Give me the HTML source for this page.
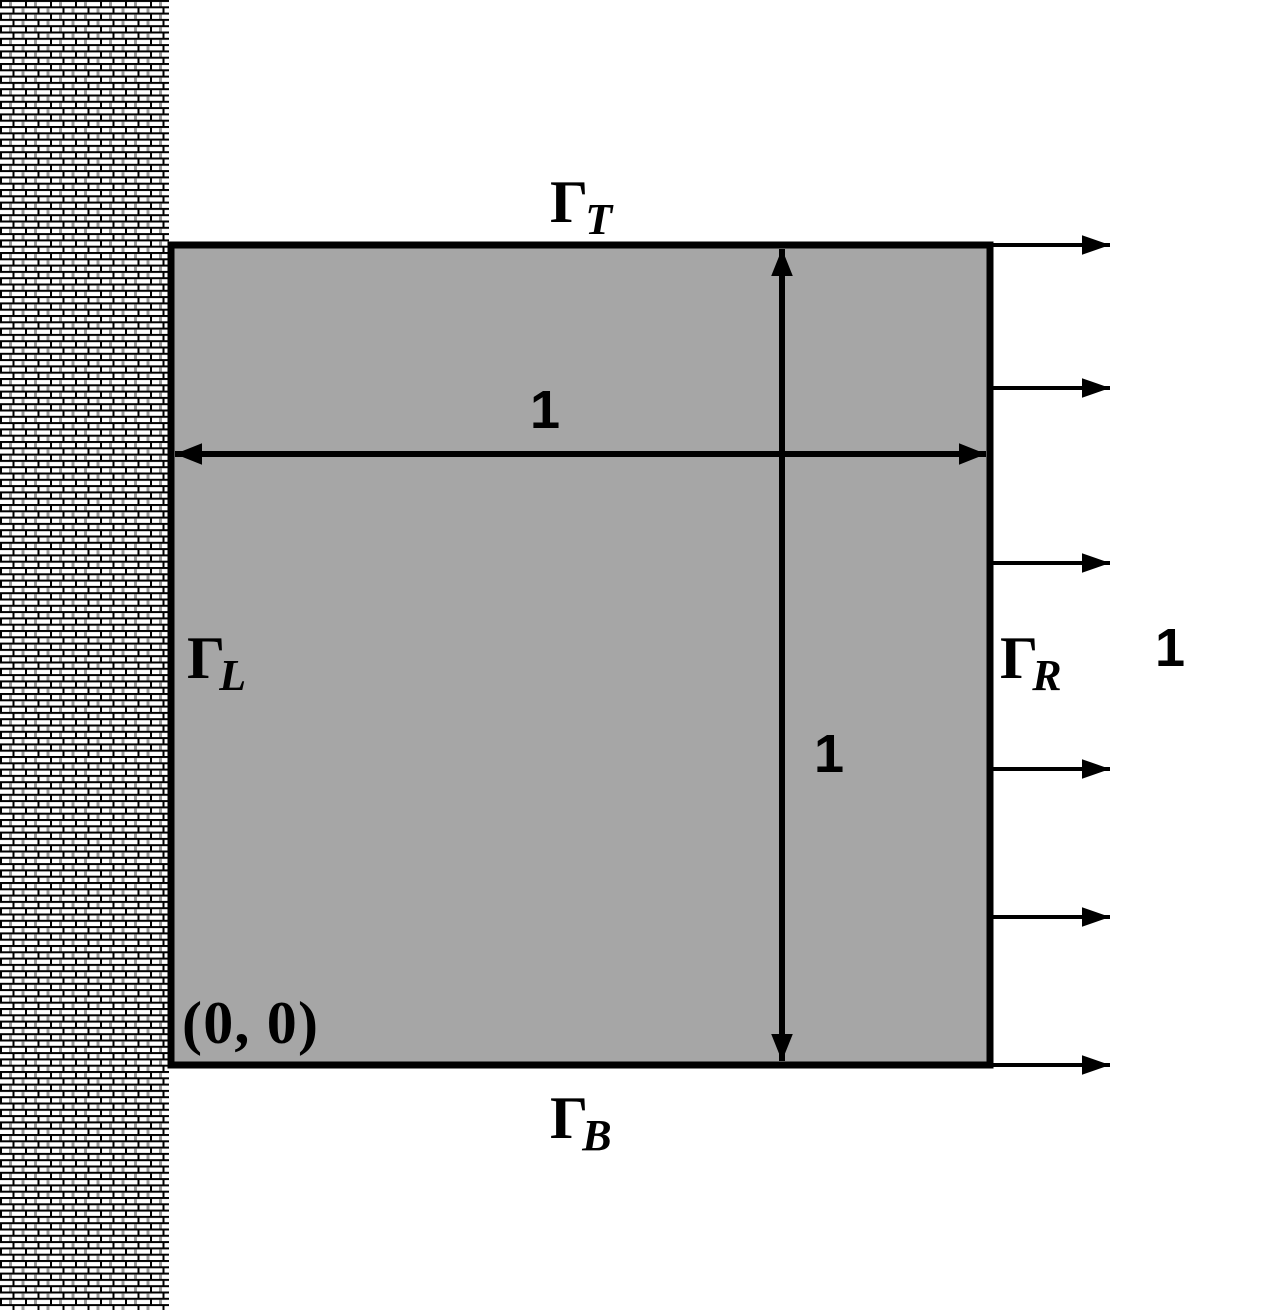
<!DOCTYPE html>
<html><head><meta charset="utf-8"><style>html,body{margin:0;padding:0;background:#fff}</style></head>
<body>
<svg width="1273" height="1310" viewBox="0 0 1273 1310" xmlns="http://www.w3.org/2000/svg">
<defs>
<pattern id="brick" width="25" height="12.6" patternUnits="userSpaceOnUse">
<rect width="25" height="12.6" fill="#fff"/>
<rect x="0" y="0" width="25" height="2" fill="#000"/>
<rect x="0" y="6.3" width="25" height="2" fill="#000"/>
<rect x="0" y="0" width="2" height="6.3" fill="#000"/>
<rect x="12.5" y="6.3" width="2" height="6.3" fill="#000"/>
<rect x="9" y="2" width="3" height="4.3" fill="#999"/>
<rect x="21.5" y="8.3" width="3" height="4.3" fill="#999"/>
</pattern>
<marker id="ah" viewBox="0 0 10 10" refX="10" refY="5" markerWidth="4.5" markerHeight="4.5" orient="auto-start-reverse" markerUnits="strokeWidth">
<path d="M0,1 L10,5 L0,9 z" fill="#000"/></marker>
<marker id="ah2" viewBox="0 0 10 10" refX="10" refY="5" markerWidth="7" markerHeight="7" orient="auto" markerUnits="strokeWidth">
<path d="M0,1.5 L10,5 L0,8.5 z" fill="#000"/></marker>
</defs>
<rect x="0" y="0" width="169" height="1310" fill="url(#brick)"/>
<rect x="171" y="245" width="819" height="820" fill="#a6a6a6" stroke="#000" stroke-width="7"/>
<line x1="175" y1="454" x2="986" y2="454" stroke="#000" stroke-width="6" marker-start="url(#ah)" marker-end="url(#ah)"/>
<line x1="782" y1="249" x2="782" y2="1061" stroke="#000" stroke-width="6" marker-start="url(#ah)" marker-end="url(#ah)"/>
<g stroke="#000" stroke-width="4">
<line x1="993" y1="245" x2="1110" y2="245" marker-end="url(#ah2)"/>
<line x1="993" y1="388" x2="1110" y2="388" marker-end="url(#ah2)"/>
<line x1="993" y1="563" x2="1110" y2="563" marker-end="url(#ah2)"/>
<line x1="993" y1="769" x2="1110" y2="769" marker-end="url(#ah2)"/>
<line x1="993" y1="917" x2="1110" y2="917" marker-end="url(#ah2)"/>
<line x1="993" y1="1065" x2="1110" y2="1065" marker-end="url(#ah2)"/>
</g>
<g font-family="Liberation Serif, serif" font-weight="bold" font-size="60" fill="#000">
<text x="550" y="222">Γ<tspan font-style="italic" font-size="44" dy="12" dx="-3">T</tspan></text>
<text x="187" y="678">Γ<tspan font-style="italic" font-size="44" dy="12" dx="-6">L</tspan></text>
<text x="1000" y="678">Γ<tspan font-style="italic" font-size="44" dy="12" dx="-6">R</tspan></text>
<text x="550" y="1138">Γ<tspan font-style="italic" font-size="44" dy="12" dx="-6">B</tspan></text>
<text x="182" y="1043" font-size="60" textLength="136" lengthAdjust="spacing">(0, 0)</text>
</g>
<g font-family="Liberation Sans, sans-serif" font-weight="bold" font-size="54" fill="#000" text-anchor="middle">
<text x="545" y="428">1</text>
<text x="829" y="772">1</text>
<text x="1170" y="666">1</text>
</g>
</svg>
</body></html>
